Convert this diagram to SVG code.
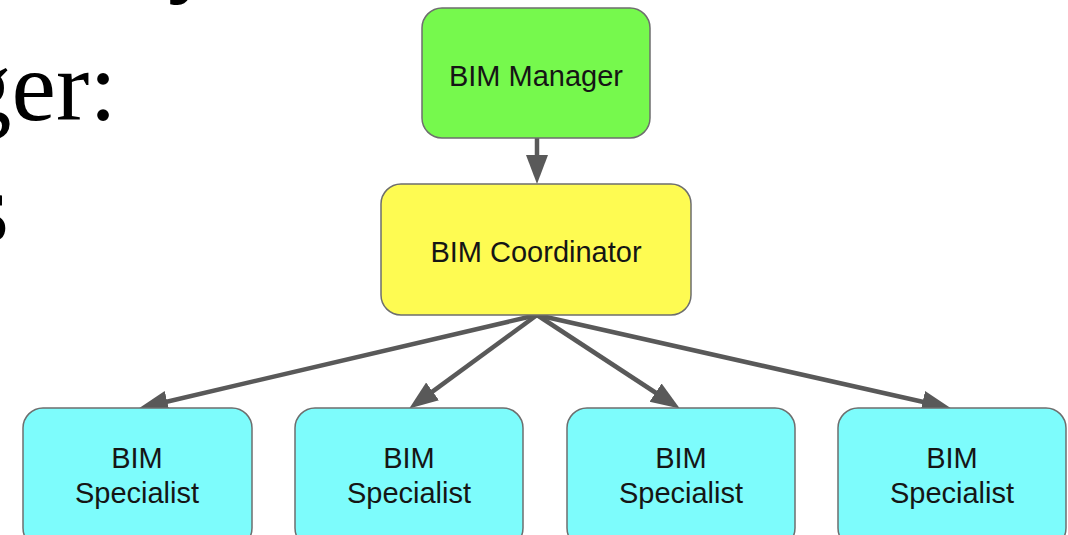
<svg xmlns="http://www.w3.org/2000/svg" width="1068" height="535" viewBox="0 0 1068 535">
<style>
.box{stroke:#6e6e6e;stroke-width:1.5}
.lbl{font-family:"Liberation Sans",Arial,sans-serif;font-size:29px;fill:#151515;text-anchor:middle}
.bg{font-family:"Liberation Serif","Times New Roman",serif;font-size:100px;fill:#000}
.edge{stroke:#595959;stroke-width:4.5;fill:none}
</style>
<defs>
<marker id="ah" markerUnits="userSpaceOnUse" markerWidth="30" markerHeight="24" refX="18" refY="11" orient="auto">
<path d="M0,0 L29,11 L0,22 z" fill="#595959"/>
</marker>
</defs>
<rect width="1068" height="535" fill="#fff"/>
<g id="bgtext">
<text class="bg" x="218" y="-16" text-anchor="end">y</text>
<text class="bg" x="117" y="120" text-anchor="end">ger:</text>
<text class="bg" x="9" y="241" text-anchor="end">s</text>
</g>
<g id="connectors">
<line class="edge" x1="537" y1="138" x2="537" y2="173" marker-end="url(#ah)"/>
<line class="edge" x1="537" y1="315" x2="149.7" y2="405.7" marker-end="url(#ah)"/>
<line class="edge" x1="537" y1="315" x2="418.1" y2="402.1" marker-end="url(#ah)"/>
<line class="edge" x1="537" y1="315" x2="670.6" y2="402.5" marker-end="url(#ah)"/>
<line class="edge" x1="537" y1="315" x2="940.2" y2="405.8" marker-end="url(#ah)"/>
</g>
<g id="manager">
<rect class="box" x="422" y="8" width="228" height="130" rx="20" fill="#76f94d"/>
<text class="lbl" x="536" y="86">BIM Manager</text>
</g>
<g id="coordinator">
<rect class="box" x="381" y="184" width="310" height="131" rx="20" fill="#fefb52"/>
<text class="lbl" x="536" y="262">BIM Coordinator</text>
</g>
<g id="spec1">
<rect class="box" x="23" y="408" width="229" height="140" rx="20" fill="#7dfcfc"/>
<text class="lbl" x="137" y="468">BIM</text>
<text class="lbl" x="137" y="503">Specialist</text>
</g>
<g id="spec2">
<rect class="box" x="295" y="408" width="228" height="140" rx="20" fill="#7dfcfc"/>
<text class="lbl" x="409" y="468">BIM</text>
<text class="lbl" x="409" y="503">Specialist</text>
</g>
<g id="spec3">
<rect class="box" x="567" y="408" width="228" height="140" rx="20" fill="#7dfcfc"/>
<text class="lbl" x="681" y="468">BIM</text>
<text class="lbl" x="681" y="503">Specialist</text>
</g>
<g id="spec4">
<rect class="box" x="838" y="408" width="228" height="140" rx="20" fill="#7dfcfc"/>
<text class="lbl" x="952" y="468">BIM</text>
<text class="lbl" x="952" y="503">Specialist</text>
</g>
</svg>
